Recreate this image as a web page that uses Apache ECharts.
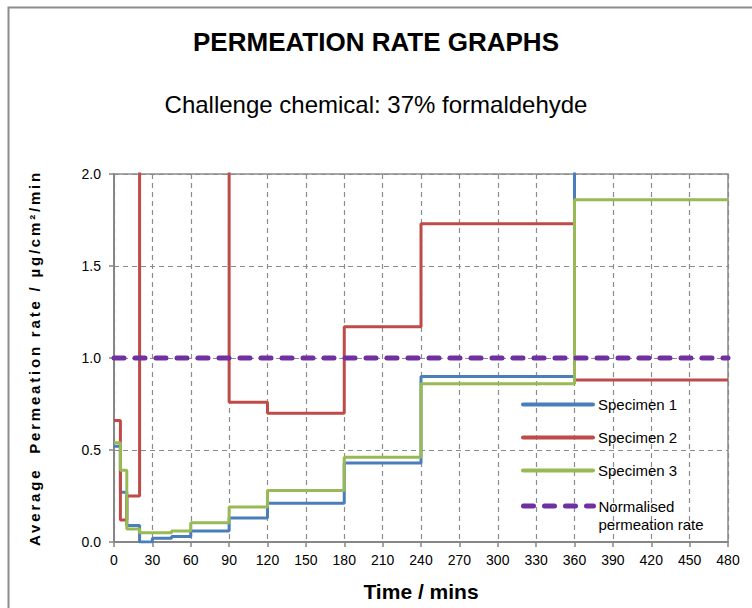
<!DOCTYPE html>
<html>
<head>
<meta charset="utf-8">
<script src="https://cdn.jsdelivr.net/npm/echarts@6/dist/echarts.min.js"></script>
<style>
html,body{margin:0;padding:0;background:#fff;}
#chart{width:752px;height:608px;}
</style>
</head>
<body>
<div id="chart"></div>
<script>
// Data (step values, each value holds until the next time)
var times = [0, 5, 10, 20, 30, 45, 60, 90, 120, 180, 240, 360, 480];
var specimen1 = [0.52, 0.27, 0.09, 0.00, 0.02, 0.03, 0.06, 0.13, 0.21, 0.43, 0.90, 2.40, 2.40];
var specimen2 = [0.66, 0.12, 0.25, 2.60, 2.60, 2.60, 2.60, 0.76, 0.70, 1.17, 1.73, 0.88, 0.88];
var specimen3 = [0.54, 0.39, 0.07, 0.05, 0.05, 0.06, 0.105, 0.19, 0.28, 0.46, 0.86, 1.86, 1.86];
var normTimes = [0, 480];
var normalised = [1.0, 1.0];
var xTicks = [0, 30, 60, 90, 120, 150, 180, 210, 240, 270, 300, 330, 360, 390, 420, 450, 480];
var yTicks = [0.0, 0.5, 1.0, 1.5, 2.0];
var seriesNames = ['Specimen 1', 'Specimen 2', 'Specimen 3', 'Normalised permeation rate'];

function pairs(xs, ys) { return xs.map(function (x, i) { return [x, ys[i]]; }); }

var FONT = 'Liberation Sans, Arial, sans-serif';
var chart = echarts.init(document.getElementById('chart'), null, {renderer: 'svg'});

var stepSeries = function (name, xs, ys, color) {
  return {
    name: name, type: 'line', step: 'end', data: pairs(xs, ys),
    symbol: 'none', clip: true, animation: false,
    lineStyle: {color: color, width: 3},
    itemStyle: {color: color}
  };
};

var legendCommon = {
  orient: 'vertical', left: 521, padding: 0,
  itemWidth: 70, itemHeight: 16, itemGap: 18,
  itemStyle: {color: 'rgba(0,0,0,0)', borderColor: 'rgba(0,0,0,0)', borderWidth: 0},
  selectedMode: false
};

chart.setOption({
  backgroundColor: '#fff',
  animation: false,
  graphic: [{
    type: 'rect', left: 6, top: 5, silent: true,
    shape: {width: 760, height: 620},
    style: {fill: 'none', stroke: '#8c8c8c', lineWidth: 2}
  }],
  title: [{
    text: 'PERMEATION RATE GRAPHS', left: 'center', top: 24,
    textStyle: {fontFamily: FONT, fontSize: 26, fontWeight: 'bold', color: '#000'}
  }, {
    text: 'Challenge chemical: 37% formaldehyde', left: 'center', top: 87,
    textStyle: {fontFamily: FONT, fontSize: 24, fontWeight: 'normal', color: '#000'}
  }],
  legend: [
    Object.assign({}, legendCommon, {
      data: seriesNames.slice(0, 3), top: 397,
      lineStyle: {width: 4, cap: 'round'},
      textStyle: {fontFamily: FONT, fontSize: 15, color: '#000'}
    }),
    Object.assign({}, legendCommon, {
      data: [seriesNames[3]], top: 479,
      lineStyle: {width: 5, cap: 'round'},
      formatter: function () { return '\nNormalised\npermeation rate'; },
      textStyle: {fontFamily: FONT, fontSize: 15, color: '#000', lineHeight: 18}
    })
  ],
  grid: {
    left: 114, right: 24, top: 174, bottom: 66,
    show: true, borderColor: '#8c8c8c', borderWidth: 1.5, backgroundColor: '#fff'
  },
  xAxis: {
    type: 'value', min: xTicks[0], max: xTicks[xTicks.length - 1], interval: xTicks[1] - xTicks[0],
    name: 'Time / mins', nameLocation: 'middle', nameGap: 39,
    nameTextStyle: {fontFamily: FONT, fontSize: 21, fontWeight: 'bold', color: '#000'},
    axisLine: {show: true, lineStyle: {color: '#868686', width: 2}},
    axisTick: {show: true, length: 5, lineStyle: {color: '#868686', width: 1.5}},
    axisLabel: {fontFamily: FONT, fontSize: 14, color: '#000', margin: 11},
    splitLine: {show: true, lineStyle: {color: '#8c8c8c', width: 1.2, type: [5, 4]}}
  },
  yAxis: {
    type: 'value', min: yTicks[0], max: yTicks[yTicks.length - 1], interval: yTicks[1] - yTicks[0],
    name: 'Average  Permeation rate / µg/cm²/min', nameLocation: 'middle', nameGap: 72, nameRotate: 90,
    nameTextStyle: {fontFamily: FONT, fontSize: 15, fontWeight: 'bold', color: '#000'},
    axisLine: {show: true, lineStyle: {color: '#868686', width: 2}},
    axisTick: {show: true, length: 5, lineStyle: {color: '#868686', width: 1.5}},
    axisLabel: {fontFamily: FONT, fontSize: 14, color: '#000', margin: 13,
      formatter: function (v) { return v.toFixed(1); }},
    splitLine: {show: true, lineStyle: {color: '#8c8c8c', width: 1.2, type: [5, 4]}}
  },
  series: [
    stepSeries(seriesNames[0], times, specimen1, '#4A7EBB'),
    stepSeries(seriesNames[1], times, specimen2, '#BE4B48'),
    stepSeries(seriesNames[2], times, specimen3, '#98B954'),
    {
      name: seriesNames[3], type: 'line', data: pairs(normTimes, normalised),
      symbol: 'none', animation: false,
      lineStyle: {color: '#7030A0', width: 5, type: [10, 11], cap: 'round'},
      itemStyle: {color: '#7030A0'}
    }
  ]
});

// widen the letter spacing of the y-axis title as in the reference
function spaceYName() {
  var texts = document.querySelectorAll('#chart svg text');
  texts.forEach(function (t) {
    if (t.textContent.indexOf('Permeation rate /') >= 0) {
      t.setAttribute('letter-spacing', '2.8');
    }
  });
}
spaceYName();
chart.on('finished', spaceYName);
</script>
</body>
</html>
